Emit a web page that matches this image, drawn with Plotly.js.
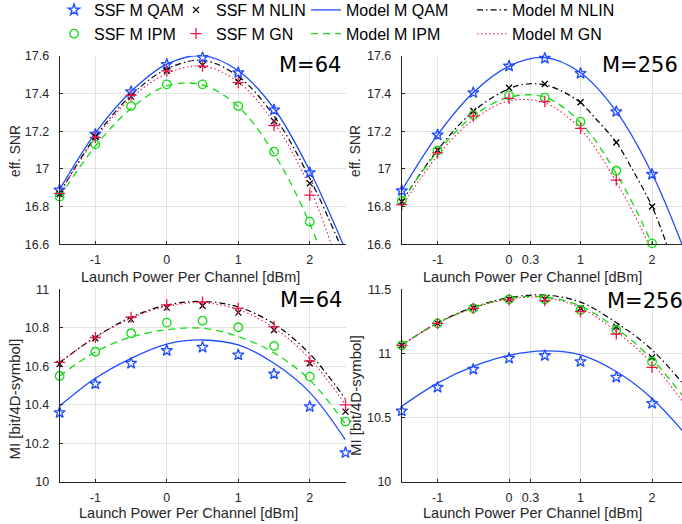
<!DOCTYPE html>
<html>
<head>
<meta charset="utf-8">
<script src="https://cdn.plot.ly/plotly-3.0.1.min.js"></script>
<style>html,body{margin:0;padding:0;background:#fff;overflow:hidden;}#chart{width:682px;height:531px;margin-top:-7px;}</style>
</head>
<body>
<div id="chart"></div>
<script>
// Launch power per channel [dBm]
const xPow = [-1.5, -1, -0.5, 0, 0.5, 1, 1.5, 2, 2.5];
const xNlin256 = [-1.5, -1, -0.5, 0, 0.25, 0.5, 0.75, 1, 1.25, 1.5, 1.75, 2, 2.25, 2.5];

// eff. SNR, M=64 (SSF markers)
const snr64QAM  = [16.888, 17.183, 17.409, 17.554, 17.590, 17.510, 17.312, 16.980, null];
const snr64NLIN = [16.867, 17.170, 17.383, 17.520, 17.550, 17.462, 17.254, 16.923, null];
const snr64IPM  = [16.853, 17.130, 17.333, 17.448, 17.448, 17.333, 17.091, 16.720, null];
const snr64GN   = [16.870, 17.167, 17.390, 17.520, 17.545, 17.457, 17.230, 16.861, null];
// eff. SNR, M=64 (model curves)
const snr64ModelQAM  = [16.89, 17.19, 17.41, 17.555, 17.600, 17.520, 17.320, 16.990, 16.57];
const snr64ModelNLIN = [16.87, 17.17, 17.39, 17.530, 17.575, 17.490, 17.280, 16.950, 16.53];
const snr64ModelIPM  = [16.85, 17.12, 17.32, 17.440, 17.445, 17.330, 17.080, 16.710, 16.18];
const snr64ModelGN   = [16.87, 17.16, 17.375, 17.505, 17.545, 17.460, 17.245, 16.900, 16.37];

// eff. SNR, M=256 (SSF markers)
const snr256QAM  = [16.884, 17.180, 17.404, 17.545, 17.586, 17.506, 17.303, 16.971, null];
const snr256NLIN = [16.826, 17.100, 17.307, 17.430, 17.450, 17.353, 17.140, 16.800, null];
const snr256IPM  = [16.830, 17.097, 17.285, 17.390, 17.378, 17.250, 16.990, 16.605, null];
const snr256GN   = [16.810, 17.085, 17.280, 17.374, 17.356, 17.215, 16.940, 16.590, null];
// eff. SNR, M=256 (model curves)
const snr256ModelQAM  = [16.885, 17.18, 17.405, 17.545, 17.590, 17.510, 17.305, 16.975, 16.52];
const snr256ModelNLIN = [16.826, 17.10, 17.305, 17.425, 17.450, 17.445, 17.410, 17.350, 17.250, 17.140, 16.980, 16.800, 16.55, 16.25];
const snr256ModelIPM  = [16.830, 17.09, 17.280, 17.380, 17.380, 17.245, 16.975, 16.600, 16.10];
const snr256ModelGN   = [16.800, 17.07, 17.260, 17.360, 17.350, 17.210, 16.930, 16.560, 16.05];

// MI [bit/4D-symbol], M=64 (SSF markers)
const mi64QAM  = [10.360, 10.509, 10.616, 10.682, 10.699, 10.659, 10.561, 10.391, 10.152];
const mi64NLIN = [10.612, 10.746, 10.844, 10.905, 10.915, 10.879, 10.789, 10.616, 10.365];
const mi64IPM  = [10.550, 10.676, 10.772, 10.827, 10.837, 10.803, 10.706, 10.547, 10.313];
const mi64GN   = [10.621, 10.750, 10.855, 10.919, 10.934, 10.901, 10.806, 10.628, 10.400];
// MI, M=64 (model curves)
const mi64ModelQAM  = [10.394, 10.538, 10.642, 10.716, 10.737, 10.711, 10.616, 10.465, 10.218];
const mi64ModelNLIN = [10.620, 10.752, 10.855, 10.918, 10.937, 10.908, 10.820, 10.665, 10.430];
const mi64ModelIPM  = [10.550, 10.675, 10.752, 10.790, 10.798, 10.755, 10.670, 10.530, 10.300];
const mi64ModelGN   = [10.620, 10.750, 10.850, 10.912, 10.930, 10.895, 10.800, 10.640, 10.400];

// MI, M=256 (SSF markers)
const mi256QAM  = [10.553, 10.737, 10.877, 10.963, 10.984, 10.937, 10.815, 10.612, null];
const mi256NLIN = [11.064, 11.235, 11.357, 11.422, 11.422, 11.352, 11.209, 10.970, null];
const mi256IPM  = [11.064, 11.235, 11.352, 11.422, 11.422, 11.339, 11.183, 10.937, null];
const mi256GN   = [11.064, 11.235, 11.352, 11.418, 11.412, 11.326, 11.152, 10.893, null];
// MI, M=256 (model curves)
const mi256ModelQAM  = [10.590, 10.770, 10.900, 10.985, 11.020, 10.990, 10.860, 10.650, 10.35];
const mi256ModelNLIN = [11.066, 11.238, 11.360, 11.435, 11.455, 11.400, 11.240, 11.028, 10.72];
const mi256ModelIPM  = [11.066, 11.238, 11.356, 11.430, 11.440, 11.370, 11.196, 10.955, 10.62];
const mi256ModelGN   = [11.066, 11.236, 11.354, 11.425, 11.435, 11.355, 11.170, 10.924, 10.57];

// Tick labels
const xTicks64 = [-1, 0, 1, 2];
const xTickText64 = ['-1', '0', '1', '2'];
const xTicks256 = [-1, 0, 0.3, 1, 2];
const xTickText256 = ['-1', '0', '0.3', '1', '2'];
const ySnrTicks = [16.6, 16.8, 17, 17.2, 17.4, 17.6];
const ySnrText = ['16.6', '16.8', '17', '17.2', '17.4', '17.6'];
const yMi64Ticks = [10, 10.2, 10.4, 10.6, 10.8, 11];
const yMi64Text = ['10', '10.2', '10.4', '10.6', '10.8', '11'];
const yMi256Ticks = [10, 10.5, 11, 11.5];
const yMi256Text = ['10', '10.5', '11', '11.5'];

const names = ['SSF M QAM', 'SSF M NLIN', 'SSF M IPM', 'SSF M GN', 'Model M QAM', 'Model M NLIN', 'Model M IPM', 'Model M GN'];

const BLUE = '#1f4dff', BLACK = '#000000', GREEN = '#11dd11', RED = '#f0164a';

function markers(xs, ys, kind, ax, show) {
  const st = {
    QAM: {symbol: 'star-open', size: 8.5, color: BLUE, name: names[0], lg: 'legend'},
    NLIN: {symbol: 'x-thin-open', size: 6, color: BLACK, name: names[1], lg: 'legend2'},
    IPM: {symbol: 'circle-open', size: 8.5, color: GREEN, name: names[2], lg: 'legend'},
    GN: {symbol: 'cross-thin-open', size: 8, color: RED, name: names[3], lg: 'legend2'}
  }[kind];
  return {
    x: xs, y: ys, type: 'scatter', mode: 'markers', name: st.name,
    xaxis: 'x' + ax, yaxis: 'y' + ax, showlegend: show, legend: st.lg,
    cliponaxis: false,
    marker: {symbol: st.symbol, size: st.size, color: st.color, line: {color: st.color, width: 1.3}}
  };
}
function model(xs, ys, kind, ax, show) {
  const st = {
    QAM: {dash: 'solid', color: BLUE, name: names[4], lg: 'legend3', w: 1.3},
    NLIN: {dash: '6px,3px,1.5px,3px', color: BLACK, name: names[5], lg: 'legend4', w: 1.2},
    IPM: {dash: '7px,5px', color: GREEN, name: names[6], lg: 'legend3', w: 1.3},
    GN: {dash: '1.5px,2.5px', color: RED, name: names[7], lg: 'legend4', w: 1.1}
  }[kind];
  return {
    x: xs, y: ys, type: 'scatter', mode: 'lines', name: st.name,
    xaxis: 'x' + ax, yaxis: 'y' + ax, showlegend: show, legend: st.lg,
    line: {color: st.color, dash: st.dash, width: st.w, shape: 'spline', smoothing: 1}
  };
}

const traces = [];
function addPanel(ax, d, show) {
  traces.push(model(d.xm, d.mQAM, 'QAM', ax, show));
  traces.push(model(d.xmNLIN || d.xm, d.mNLIN, 'NLIN', ax, show));
  traces.push(model(d.xm, d.mIPM, 'IPM', ax, show));
  traces.push(model(d.xm, d.mGN, 'GN', ax, show));
  traces.push(markers(d.x, d.QAM, 'QAM', ax, show));
  traces.push(markers(d.x, d.NLIN, 'NLIN', ax, show));
  traces.push(markers(d.x, d.IPM, 'IPM', ax, show));
  traces.push(markers(d.x, d.GN, 'GN', ax, show));
}
addPanel('', {x: xPow, xm: xPow, QAM: snr64QAM, NLIN: snr64NLIN, IPM: snr64IPM, GN: snr64GN,
  mQAM: snr64ModelQAM, mNLIN: snr64ModelNLIN, mIPM: snr64ModelIPM, mGN: snr64ModelGN}, true);
addPanel('2', {x: xPow, xm: xPow, xmNLIN: xNlin256, QAM: snr256QAM, NLIN: snr256NLIN, IPM: snr256IPM, GN: snr256GN,
  mQAM: snr256ModelQAM, mNLIN: snr256ModelNLIN, mIPM: snr256ModelIPM, mGN: snr256ModelGN}, false);
addPanel('3', {x: xPow, xm: xPow, QAM: mi64QAM, NLIN: mi64NLIN, IPM: mi64IPM, GN: mi64GN,
  mQAM: mi64ModelQAM, mNLIN: mi64ModelNLIN, mIPM: mi64ModelIPM, mGN: mi64ModelGN}, false);
addPanel('4', {x: xPow, xm: xPow, QAM: mi256QAM, NLIN: mi256NLIN, IPM: mi256IPM, GN: mi256GN,
  mQAM: mi256ModelQAM, mNLIN: mi256ModelNLIN, mIPM: mi256ModelIPM, mGN: mi256ModelGN}, false);

const FONT = 'Liberation Sans, Arial, sans-serif';
const TXT = '#262626';
function xax(domain, range, tv, tt, anchor) {
  return {domain: domain, range: range, tickvals: tv, ticktext: tt, anchor: anchor,
    showgrid: true, gridcolor: '#e2e2e2', gridwidth: 1, zeroline: false,
    showline: true, linecolor: TXT, linewidth: 1, mirror: false,
    ticks: 'inside', ticklen: 3, tickcolor: TXT, ticklabelstandoff: 4,
    tickfont: {family: FONT, size: 12.5, color: TXT}, fixedrange: true};
}
function yax(domain, range, tv, tt, anchor) {
  const a = xax(domain, range, tv, tt, anchor);
  a.ticklabelstandoff = 7;
  return a;
}
// Plot is 7px taller than the window and shifted up so the legend sits close to the top edge
const W = 682, OFF = 7, H = 524 + OFF;
const py = y => 1 - (y + OFF) / H;   // page pixel row -> paper y
const xd1 = [59.6 / W, 345.5 / W], xd2 = [401.8 / W, 1];
const yTop = [py(244.3), py(55.7)], yBot = [py(482), py(289.3)];
const r2 = [-1.5, -1.5 + (W - 401.8) / 71.5];

function ann(text, x, y, size, angle, family) {
  return {text: text, x: x / W, y: py(y), xref: 'paper', yref: 'paper', showarrow: false,
    xanchor: 'center', yanchor: 'middle', textangle: angle || 0,
    font: {family: family || FONT, size: size, color: family ? '#000' : TXT}};
}
const lgBase = {yanchor: 'top', xanchor: 'left', y: 1, bgcolor: 'rgba(0,0,0,0)', borderwidth: 0,
  font: {family: FONT, size: 16, color: '#000'}, tracegroupgap: 0, itemwidth: 30, orientation: 'v', traceorder: 'normal'};

const layout = {
  width: W, height: H, autosize: false,
  margin: {l: 0, r: 0, t: 0, b: 0},
  paper_bgcolor: '#fff', plot_bgcolor: '#fff',
  showlegend: true,
  legend: Object.assign({}, lgBase, {x: 54 / W}),
  legend2: Object.assign({}, lgBase, {x: 176 / W}),
  legend3: Object.assign({}, lgBase, {x: 306 / W}),
  legend4: Object.assign({}, lgBase, {x: 472 / W}),
  xaxis: xax(xd1, [-1.5, 2.5], xTicks64, xTickText64, 'y'),
  yaxis: yax(yTop, [16.6, 17.6], ySnrTicks, ySnrText, 'x'),
  xaxis2: xax(xd2, r2, xTicks256, xTickText256, 'y2'),
  yaxis2: yax(yTop, [16.6, 17.6], ySnrTicks, ySnrText, 'x2'),
  xaxis3: xax(xd1, [-1.5, 2.5], xTicks64, xTickText64, 'y3'),
  yaxis3: yax(yBot, [10, 11], yMi64Ticks, yMi64Text, 'x3'),
  xaxis4: xax(xd2, r2, xTicks256, xTickText256, 'y4'),
  yaxis4: yax(yBot, [10, 11.5], yMi256Ticks, yMi256Text, 'x4'),
  annotations: [
    ann('Launch Power Per Channel [dBm]', 191, 277, 14.5),
    ann('Launch Power Per Channel [dBm]', 532, 277, 14.5),
    ann('Launch Power Per Channel [dBm]', 189, 513, 14.5),
    ann('Launch Power Per Channel [dBm]', 532, 513, 14.5),
    ann('eff. SNR', 15, 151, 13.8, -90),
    ann('eff. SNR', 355, 151, 13.8, -90),
    ann('MI [bit/4D-symbol]', 13.5, 399, 15, -90),
    ann('MI [bit/4D-symbol]', 355, 396, 15, -90),
    ann('M=64', 310, 65, 21, 0, 'DejaVu Sans'),
    ann('M=256', 640, 65, 21, 0, 'DejaVu Sans'),
    ann('M=64', 311, 300, 21, 0, 'DejaVu Sans'),
    ann('M=256', 645, 301, 21, 0, 'DejaVu Sans')
  ]
};

const order = ['SSF M QAM', 'SSF M IPM', 'SSF M NLIN', 'SSF M GN', 'Model M QAM', 'Model M IPM', 'Model M NLIN', 'Model M GN'];
traces.forEach(t => { if (t.showlegend) t.legendrank = order.indexOf(t.name) + 1; });

Plotly.newPlot('chart', traces, layout, {staticPlot: true, displayModeBar: false});
</script>
</body>
</html>
